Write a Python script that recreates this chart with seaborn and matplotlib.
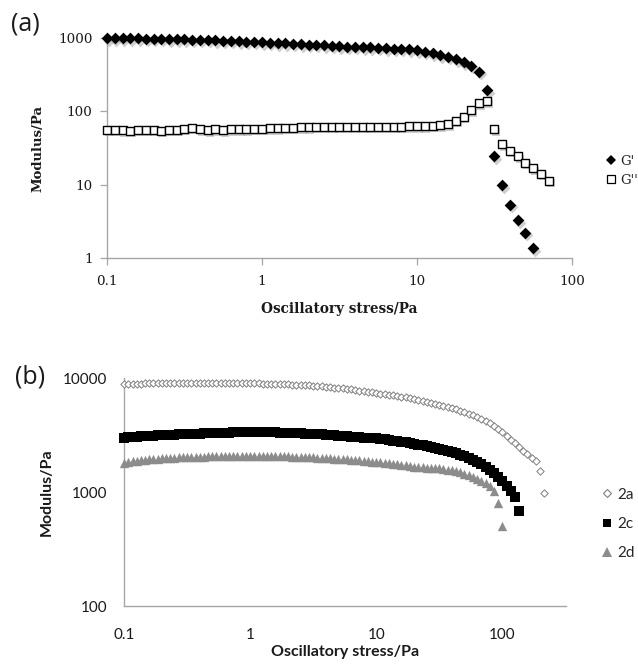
import matplotlib
matplotlib.use("Agg")
import matplotlib.pyplot as plt
import matplotlib.transforms as mtransforms
from matplotlib.lines import Line2D
from matplotlib.ticker import NullLocator
import seaborn as sns

sns.set_theme(style="white")
plt.rcParams["font.family"] = ["DejaVu Serif", "DejaVu Sans"]

# ---- panel (a): amplitude sweep, G' and G'' ----
stress_a = [
    0.100, 0.112, 0.126, 0.141, 0.158, 0.178, 0.200, 0.224, 0.251, 0.282,
    0.316, 0.355, 0.398, 0.447, 0.501, 0.562, 0.631, 0.708, 0.794, 0.891,
    1.00, 1.12, 1.26, 1.41, 1.58, 1.78, 2.00, 2.24, 2.51, 2.82,
    3.16, 3.55, 3.98, 4.47, 5.01, 5.62, 6.31, 7.08, 7.94, 8.91,
    10.0, 11.2, 12.6, 14.1, 15.8, 17.8, 20.0, 22.4, 25.1, 28.2,
    31.6, 35.5, 39.8, 44.7, 50.1, 56.2, 63.1, 70.8,
]
g_prime = [
    1000, 998, 995, 992, 990, 985, 980, 975, 970, 965,
    960, 955, 950, 945, 935, 925, 915, 905, 895, 885,
    875, 865, 855, 845, 835, 825, 815, 805, 795, 785,
    775, 765, 755, 750, 745, 740, 730, 720, 715, 705,
    680, 655, 620, 585, 555, 515, 470, 420, 345, 195,
    24.5, 9.9, 5.3, 3.3, 2.2, 1.37,
]
g_double = [
    56, 56, 55, 54, 56, 56, 56, 54, 56, 56,
    58, 60, 57, 55, 57, 55, 57, 57, 57, 58,
    58, 59, 59, 60, 60, 61, 61, 62, 62, 62,
    62, 62, 62, 62, 62, 62, 62, 62, 62, 63,
    63, 63, 64, 65, 67, 74, 84, 104, 129, 138,
    57, 35.8, 29, 24.5, 20, 16.7, 14, 11.3,
]
ticks_a_x = [0.1, 1, 10, 100]
ticks_a_y = [1, 10, 100, 1000]

# ---- panel (b): samples 2a, 2c, 2d ----
stress_b = [
    0.100, 0.108, 0.117, 0.126, 0.136, 0.147, 0.158, 0.171, 0.185, 0.200,
    0.215, 0.233, 0.251, 0.271, 0.293, 0.316, 0.341, 0.369, 0.398, 0.430,
    0.464, 0.501, 0.541, 0.584, 0.631, 0.681, 0.736, 0.794, 0.858, 0.926,
    1.00, 1.08, 1.17, 1.26, 1.36, 1.47, 1.58, 1.71, 1.85, 2.00,
    2.15, 2.33, 2.51, 2.71, 2.93, 3.16, 3.41, 3.69, 3.98, 4.30,
    4.64, 5.01, 5.41, 5.84, 6.31, 6.81, 7.36, 7.94, 8.58, 9.26,
    10.0, 10.8, 11.7, 12.6, 13.6, 14.7, 15.8, 17.1, 18.5, 20.0,
    21.5, 23.3, 25.1, 27.1, 29.3, 31.6, 34.1, 36.9, 39.8, 43.0,
    46.4, 50.1, 54.1, 58.4, 63.1, 68.1, 73.6, 79.4, 85.8, 92.6,
    100, 108, 117, 126, 136, 147, 158, 171, 185, 200,
    215,
]
mod_2a = [
    8800, 8850, 8900, 8920, 8940, 8960, 8980, 9000, 9010, 9020,
    9030, 9040, 9050, 9060, 9070, 9080, 9090, 9100, 9100, 9100,
    9100, 9100, 9090, 9080, 9070, 9060, 9050, 9040, 9030, 9010,
    9000, 8980, 8960, 8940, 8920, 8900, 8880, 8850, 8820, 8790,
    8760, 8720, 8680, 8640, 8600, 8550, 8500, 8440, 8380, 8320,
    8250, 8180, 8100, 8020, 7940, 7850, 7760, 7670, 7580, 7490,
    7400, 7310, 7220, 7130, 7040, 6950, 6850, 6750, 6640, 6530,
    6420, 6310, 6200, 6080, 5960, 5840, 5720, 5590, 5450, 5310,
    5170, 5030, 4880, 4720, 4550, 4380, 4200, 4000, 3800, 3580,
    3350, 3100, 2880, 2670, 2480, 2300, 2150, 2000, 1870, 1530,
    980,
]
mod_2c = [
    3000, 3020, 3040, 3060, 3080, 3100, 3110, 3120, 3140, 3150,
    3160, 3180, 3190, 3200, 3220, 3230, 3240, 3250, 3260, 3270,
    3280, 3290, 3300, 3310, 3320, 3320, 3330, 3340, 3340, 3350,
    3350, 3350, 3350, 3340, 3340, 3330, 3330, 3320, 3310, 3300,
    3290, 3280, 3270, 3260, 3240, 3230, 3210, 3200, 3180, 3160,
    3140, 3120, 3100, 3080, 3060, 3040, 3020, 3000, 2970, 2960,
    2950, 2920, 2890, 2860, 2830, 2800, 2760, 2720, 2680, 2640,
    2600, 2560, 2520, 2480, 2440, 2400, 2350, 2300, 2250, 2190,
    2130, 2060, 1990, 1910, 1830, 1750, 1660, 1560, 1460, 1350,
    1240, 1120, 1020, 905, 680,
]
mod_2d = [
    1800, 1830, 1860, 1880, 1900, 1920, 1940, 1950, 1960, 1970,
    1980, 1990, 2000, 2010, 2020, 2020, 2030, 2030, 2040, 2040,
    2050, 2050, 2050, 2060, 2060, 2060, 2060, 2070, 2070, 2070,
    2070, 2070, 2070, 2060, 2060, 2060, 2060, 2050, 2050, 2050,
    2040, 2040, 2030, 2030, 2020, 2010, 2000, 1990, 1980, 1970,
    1960, 1950, 1940, 1930, 1920, 1910, 1900, 1880, 1870, 1850,
    1840, 1820, 1800, 1790, 1770, 1750, 1730, 1710, 1690, 1670,
    1660, 1650, 1640, 1630, 1620, 1610, 1590, 1570, 1550, 1520,
    1490, 1450, 1410, 1360, 1310, 1260, 1200, 1120, 1020, 800,
    500,
]
ticks_b_x = [0.1, 1, 10, 100]
ticks_b_y = [100, 1000, 10000]

AXIS_GREY = "#a6a6a6"
TEXT = "#1a1a1a"
SERIF = ["DejaVu Serif"]
SANS = ["Lato", "DejaVu Sans"]


def tick_text(vals):
    return [f"{v:g}" for v in vals]


def style_axes(ax, ticklen, xpad, ypad):
    ax.set_xscale("log")
    ax.set_yscale("log")
    for side in ["top", "right"]:
        ax.spines[side].set_visible(False)
    for side in ["left", "bottom"]:
        ax.spines[side].set_color(AXIS_GREY)
        ax.spines[side].set_linewidth(1.0)
    ax.xaxis.set_minor_locator(NullLocator())
    ax.yaxis.set_minor_locator(NullLocator())
    ax.tick_params(which="major", bottom=True, left=True, direction="out",
                   length=ticklen, width=0.9, color=AXIS_GREY, labelcolor=TEXT)
    ax.tick_params(axis="x", pad=xpad)
    ax.tick_params(axis="y", pad=ypad)


def panel_a(fig, ax):
    style_axes(ax, 4.8, 7.5, 5.5)
    shd = mtransforms.offset_copy(ax.transData, fig=fig, x=1.3, y=-1.8, units="points")

    # soft drop shadow like the spreadsheet markers
    sns.scatterplot(x=stress_a[:len(g_prime)], y=g_prime, marker="D", s=36,
                    color="#777777", alpha=0.35, linewidth=0, transform=shd,
                    clip_on=False, ax=ax)
    sns.scatterplot(x=stress_a, y=g_double, marker="s", s=30,
                    color="#777777", alpha=0.35, linewidth=0, transform=shd,
                    clip_on=False, ax=ax)

    sns.scatterplot(x=stress_a[:len(g_prime)], y=g_prime, marker="D", s=36,
                    color="black", linewidth=0, clip_on=False, ax=ax, zorder=3)
    sns.scatterplot(x=stress_a, y=g_double, marker="s", s=26,
                    color="white", edgecolor="black", linewidth=1.0,
                    clip_on=False, ax=ax, zorder=4)

    ax.set_xlim(0.1, 100)
    ax.set_ylim(1, 1000)
    ax.set_xticks(ticks_a_x, labels=tick_text(ticks_a_x), fontfamily=SERIF, fontsize=9.7)
    ax.set_yticks(ticks_a_y, labels=tick_text(ticks_a_y), fontfamily=SERIF, fontsize=9.7)

    ax.set_xlabel("Oscillatory stress/Pa", fontfamily=SERIF, fontweight="bold",
                  fontsize=9.8, color=TEXT, va="center")
    ax.set_ylabel("Modulus/Pa", fontfamily=SERIF, fontweight="bold",
                  fontsize=9.5, color=TEXT, va="center")
    ax.xaxis.set_label_coords(0.5, -0.232)
    ax.yaxis.set_label_coords(-0.148, 0.5)

    handles = [
        Line2D([], [], ls="none", marker="D", markersize=5.6, color="black", mew=0),
        Line2D([], [], ls="none", marker="s", markersize=5.4, mfc="white", mec="black", mew=0.9),
    ]
    ax.legend(handles, ["G'", "G''"], loc="center left", bbox_to_anchor=(0.948, 0.7425),
              bbox_transform=fig.transFigure, frameon=False, handlelength=0.9,
              handletextpad=0.3, labelspacing=0.45, borderpad=0, borderaxespad=0,
              prop={"family": SERIF, "size": 9.5})


def panel_b(fig, ax):
    style_axes(ax, 0, 16, 12)

    sns.scatterplot(x=stress_b[:len(mod_2a)], y=mod_2a, marker="D", s=14,
                    color="white", edgecolor="#7f7f7f", linewidth=0.7,
                    clip_on=False, ax=ax, zorder=3)
    sns.scatterplot(x=stress_b[:len(mod_2c)], y=mod_2c, marker="s", s=50,
                    color="black", linewidth=0, clip_on=False, ax=ax, zorder=3)
    sns.scatterplot(x=stress_b[:len(mod_2d)], y=mod_2d, marker="^", s=45,
                    color="#8c8c8c", linewidth=0, clip_on=False, ax=ax, zorder=3)

    ax.set_xlim(0.1, 320)
    ax.set_ylim(100, 10000)
    ax.set_xticks(ticks_b_x, labels=tick_text(ticks_b_x), fontfamily=SANS, fontsize=11)
    ax.set_yticks(ticks_b_y, labels=tick_text(ticks_b_y), fontfamily=SANS, fontsize=11)

    ax.set_xlabel("Oscillatory stress/Pa", fontfamily=SANS, fontweight="bold",
                  fontsize=11.5, color=TEXT, va="center")
    ax.set_ylabel("Modulus/Pa", fontfamily=SANS, fontweight="bold",
                  fontsize=11.5, color=TEXT, va="center")
    ax.xaxis.set_label_coords(0.5, -0.2)
    ax.yaxis.set_label_coords(-0.174, 0.5)

    handles = [
        Line2D([], [], ls="none", marker="D", markersize=4.4, mfc="white", mec="#7f7f7f", mew=0.8),
        Line2D([], [], ls="none", marker="s", markersize=6.2, color="black", mew=0),
        Line2D([], [], ls="none", marker="^", markersize=6.6, color="#8c8c8c", mew=0),
    ]
    ax.legend(handles, ["2a", "2c", "2d"], loc="center left", bbox_to_anchor=(0.942, 0.2108),
              bbox_transform=fig.transFigure, frameon=False, handlelength=0.8,
              handletextpad=0.25, labelspacing=1.0, borderpad=0, borderaxespad=0,
              prop={"family": SANS, "size": 11})


fig = plt.figure(figsize=(6.38, 6.64), dpi=100)
fig.patch.set_facecolor("white")
ax_a = fig.add_axes([0.1677, 0.6114, 0.7288, 0.3313])
ax_b = fig.add_axes([0.1944, 0.0873, 0.6928, 0.3434])

panel_a(fig, ax_a)
panel_b(fig, ax_b)

fig.text(0.040, 0.964, "(a)", fontfamily=["Open Sans", "DejaVu Sans"], fontsize=18,
         color=TEXT, ha="center", va="center")
fig.text(0.047, 0.432, "(b)", fontfamily=["Open Sans", "DejaVu Sans"], fontsize=18,
         color=TEXT, ha="center", va="center")

fig.savefig("out.png", dpi=100, facecolor="white")
